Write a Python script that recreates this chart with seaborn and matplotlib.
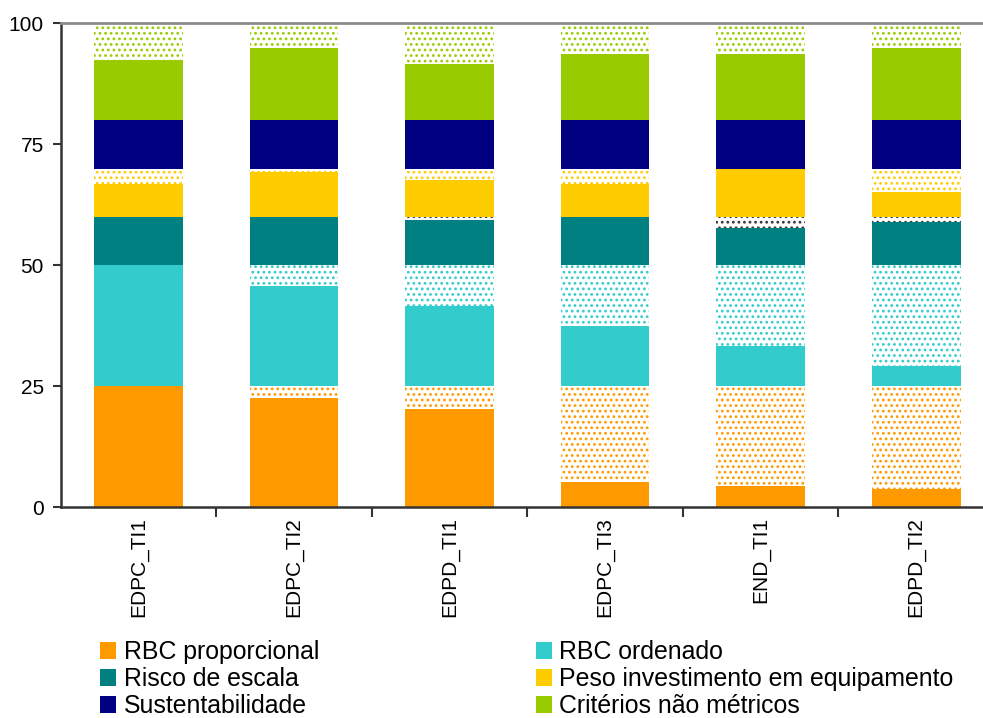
import numpy as np
import matplotlib
matplotlib.use("Agg")
import matplotlib.pyplot as plt
import seaborn as sns
from matplotlib.patches import Patch

# Projects scored on each criterion
categories = ["EDPC_TI1", "EDPC_TI2", "EDPD_TI1", "EDPC_TI3", "END_TI1", "EDPD_TI2"]

criteria = ["RBC proporcional", "RBC ordenado", "Risco de escala",
            "Peso investimento em equipamento", "Sustentabilidade",
            "Critérios não métricos"]
max_points = [25, 25, 10, 10, 10, 20]

rbc_proporcional = [25.0, 22.6, 20.3, 5.2, 4.4, 3.8]
rbc_ordenado = [25.0, 20.8, 16.6, 12.5, 8.3, 4.2]
risco_escala = [10.0, 10.0, 9.4, 10.0, 7.7, 9.0]
peso_investimento = [6.8, 9.3, 7.6, 6.8, 10.0, 5.1]
sustentabilidade = [10.0, 10.0, 10.0, 10.0, 10.0, 10.0]
criterios_nao_metricos = [12.4, 14.9, 11.7, 13.7, 13.7, 14.9]

y_ticks = [0, 25, 50, 75, 100]

colors = ["#FF9900", "#33CCCC", "#008080", "#FFCC00", "#000080", "#99CC00"]
dot_colors = ["#FF9900", "#33CCCC", "#333333", "#FFCC00", "#000080", "#99CC00"]

sns.set_theme(style="white")
plt.rcParams["font.family"] = ["Liberation Sans", "DejaVu Sans"]
plt.rcParams["hatch.linewidth"] = 1.2

fig = plt.figure(figsize=(9.83, 7.18), dpi=100)
ax = fig.add_axes([0.0617, 0.2935, 0.9495, 0.674])

scores = [rbc_proporcional, rbc_ordenado, risco_escala,
          peso_investimento, sustentabilidade, criterios_nao_metricos]

bottom = np.zeros(len(categories))
for mx, sc, col, dcol in zip(max_points, scores, colors, dot_colors):
    sc = np.asarray(sc, dtype=float)
    rest = mx - sc
    # achieved points: solid block
    sns.barplot(x=categories, y=sc, order=categories, bottom=bottom.copy(),
                color=col, saturation=1, width=0.57, linewidth=0,
                errorbar=None, ax=ax)
    bottom += sc
    # points not achieved up to the criterion maximum: dotted block
    sns.barplot(x=categories, y=rest, order=categories, bottom=bottom.copy(),
                color=col, facecolor="white", edgecolor=dcol, hatch="...",
                saturation=1, width=0.57, linewidth=0, errorbar=None, ax=ax)
    bottom += rest

ax.set_xlim(-0.5, len(categories) - 0.5)
ax.set_ylim(0, 100)
ax.set_yticks(y_ticks)
ax.set_yticklabels([str(t) for t in y_ticks])
ax.set_xticks(range(len(categories)))
ax.set_xticklabels(categories, rotation=90)
ax.set_xticks(np.arange(0.5, len(categories), 1.0), minor=True)
ax.set_xlabel("")
ax.set_ylabel("")

ax.tick_params(axis="x", which="major", length=0, pad=7, labelsize=15,
               colors="black")
ax.tick_params(axis="x", which="minor", bottom=True, length=7, width=1.5,
               direction="out", color="#333333")
ax.tick_params(axis="y", left=True, length=6, width=1.5, direction="out",
               color="#333333", labelsize=15, pad=6, labelcolor="black")

for side in ["left", "bottom"]:
    ax.spines[side].set_color("#333333")
    ax.spines[side].set_linewidth(1.8)
ax.spines["top"].set_color("#8C8C8C")
ax.spines["top"].set_linewidth(2.0)
ax.spines["right"].set_visible(False)

handles = [Patch(facecolor=c, edgecolor="none", label=n)
           for c, n in zip(colors, criteria)]

legend_kw = dict(frameon=False, loc="upper left", fontsize=17.9,
                 handlelength=0.65, handleheight=0.65, handletextpad=0.3,
                 labelspacing=0.12, borderpad=0, borderaxespad=0,
                 labelcolor="black")
fig.legend(handles=handles[0::2], bbox_to_anchor=(0.1017, 0.1085), **legend_kw)
fig.legend(handles=handles[1::2], bbox_to_anchor=(0.545, 0.1085), **legend_kw)

fig.savefig("out.png", dpi=100)
